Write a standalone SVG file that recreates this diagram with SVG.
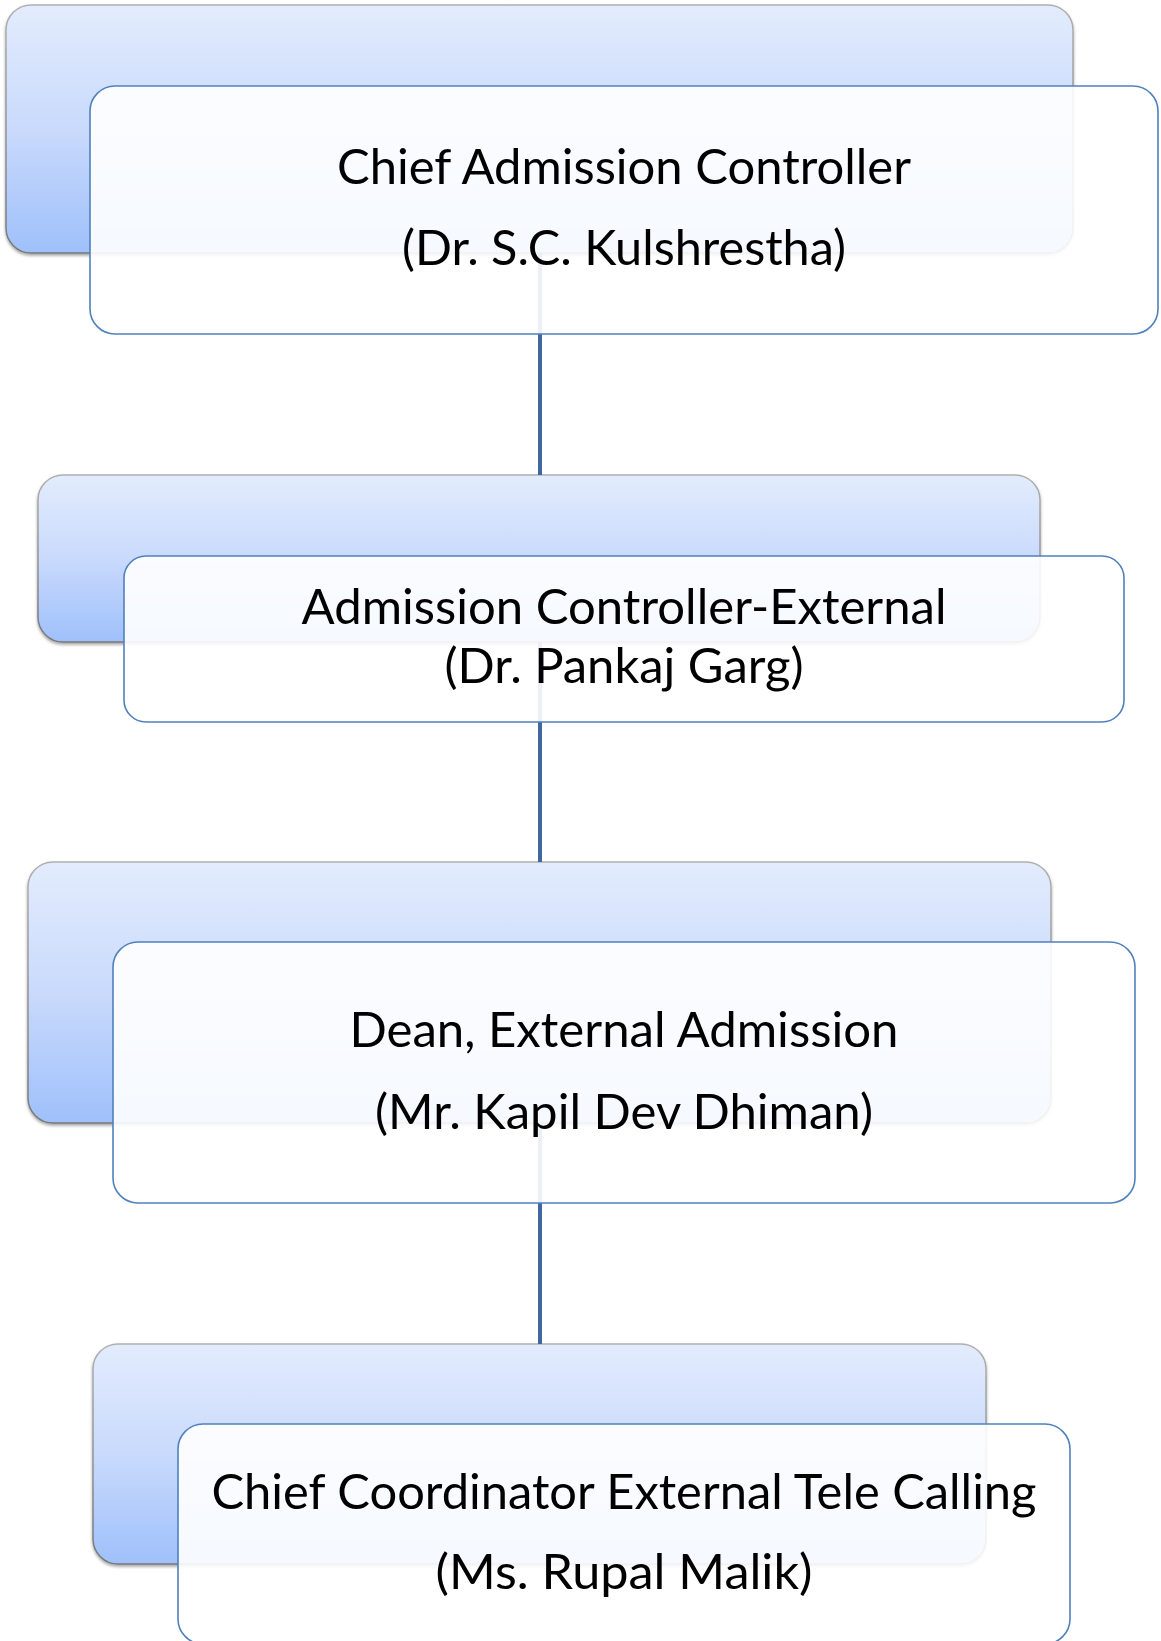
<svg xmlns="http://www.w3.org/2000/svg" width="1161" height="1641" viewBox="0 0 1161 1641">
  <defs>
    <linearGradient id="backFill" x1="0" y1="0" x2="0" y2="1">
      <stop offset="0" stop-color="#e3ecfd"/>
      <stop offset="0.5" stop-color="#c9dafc"/>
      <stop offset="1" stop-color="#9fc0fb"/>
    </linearGradient>
    <linearGradient id="backEdge" x1="0" y1="0" x2="0" y2="1">
      <stop offset="0" stop-color="#b0b0b0"/>
      <stop offset="1" stop-color="#777777"/>
    </linearGradient>
    <filter id="shadow" x="-5%" y="-5%" width="110%" height="115%">
      <feDropShadow dx="0" dy="2" stdDeviation="1.6" flood-color="#000" flood-opacity="0.35"/>
    </filter>
  </defs>
  <style>
    .back { fill: url(#backFill); stroke: url(#backEdge); stroke-width: 1.5; filter: url(#shadow); }
    .front { fill: #ffffff; fill-opacity: 0.9; stroke: #4f81bd; stroke-width: 1.6; }
    .link { stroke: #41689e; stroke-width: 4; fill: none; }
    .label { font-family: Lato, "Open Sans", "Liberation Sans", sans-serif; font-size: 48px; fill: #000; text-anchor: middle; }
  </style>

  <rect width="1161" height="1641" fill="#ffffff"/>

  <!-- background cards -->
  <g id="cards">
    <rect class="back" x="6" y="5" width="1067" height="248" rx="25"/>
    <rect class="back" x="38" y="475" width="1002" height="167" rx="25"/>
    <rect class="back" x="28" y="862" width="1023" height="261" rx="25"/>
    <rect class="back" x="93" y="1344" width="893" height="220" rx="25"/>
  </g>

  <!-- vertical connectors between levels -->
  <g id="connectors">
    <line class="link" x1="540" y1="253" x2="540" y2="475"/>
    <line class="link" x1="540" y1="642" x2="540" y2="862"/>
    <line class="link" x1="540" y1="1123" x2="540" y2="1344"/>
  </g>

  <g id="chief-admission-controller">
    <rect class="front" x="90" y="86" width="1068" height="248" rx="25"/>
    <text class="label" x="624" y="184" textLength="574" lengthAdjust="spacingAndGlyphs">Chief Admission Controller</text>
    <text class="label" x="624" y="265" textLength="444" lengthAdjust="spacingAndGlyphs">(Dr. S.C. Kulshrestha)</text>
  </g>

  <g id="admission-controller-external">
    <rect class="front" x="124" y="556" width="1000" height="166" rx="22"/>
    <text class="label" x="624" y="624" textLength="645" lengthAdjust="spacingAndGlyphs">Admission Controller-External</text>
    <text class="label" x="624" y="683" textLength="359" lengthAdjust="spacingAndGlyphs">(Dr. Pankaj Garg)</text>
  </g>

  <g id="dean-external-admission">
    <rect class="front" x="113" y="942" width="1022" height="261" rx="25"/>
    <text class="label" x="624" y="1047" textLength="549" lengthAdjust="spacingAndGlyphs">Dean, External Admission</text>
    <text class="label" x="624" y="1129" textLength="498" lengthAdjust="spacingAndGlyphs">(Mr. Kapil Dev Dhiman)</text>
  </g>

  <g id="chief-coordinator-tele-calling">
    <rect class="front" x="178" y="1424" width="892" height="220" rx="25"/>
    <text class="label" x="624" y="1509" textLength="825" lengthAdjust="spacingAndGlyphs">Chief Coordinator External Tele Calling</text>
    <text class="label" x="624" y="1589" textLength="377" lengthAdjust="spacingAndGlyphs">(Ms. Rupal Malik)</text>
  </g>
</svg>
